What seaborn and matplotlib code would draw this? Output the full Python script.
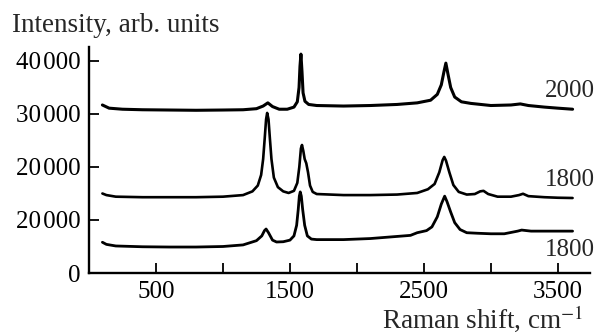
import matplotlib
matplotlib.use("Agg")
import matplotlib.pyplot as plt
import seaborn as sns
import pandas as pd

# ---- data ----
top_x = [100, 150, 250, 400, 600, 800, 1000, 1150, 1250, 1300, 1335, 1370, 1420, 1480,
         1530, 1555, 1568, 1575, 1582, 1590, 1598, 1612, 1640, 1700, 1900, 2100, 2300,
         2450, 2550, 2600, 2630, 2650, 2664, 2680, 2700, 2730, 2780, 2850, 3000, 3150,
         3220, 3280, 3400, 3500, 3610]
top_y = [31700, 31100, 30900, 30800, 30750, 30700, 30750, 30800, 31000, 31500, 32100, 31400,
         30900, 30900, 31300, 32300, 35000, 39000, 41300, 38000, 34000, 32400, 31800, 31600,
         31500, 31600, 31800, 32100, 32600, 33700, 35500, 38000, 39600, 37500, 35000, 33200,
         32300, 32000, 31600, 31700, 31900, 31600, 31300, 31100, 30900]

mid_x = [100, 130, 200, 400, 600, 800, 1000, 1150, 1220, 1260, 1285, 1300, 1312, 1322, 1330,
         1340, 1350, 1362, 1380, 1410, 1450, 1490, 1530, 1555, 1570, 1582, 1590, 1600, 1610,
         1622, 1635, 1650, 1670, 1700, 1900, 2100, 2300, 2450, 2530, 2580, 2615, 2640, 2652,
         2665, 2690, 2720, 2760, 2820, 2880, 2920, 2945, 2980, 3050, 3150, 3210, 3240, 3280,
         3400, 3500, 3610]
mid_y = [15000, 14700, 14400, 14300, 14300, 14300, 14400, 14700, 15400, 16500, 18500, 21500,
         25500, 29000, 30200, 29000, 25500, 21500, 18000, 16200, 15400, 15100, 15500, 17000,
         20000, 23500, 24150, 23000, 21500, 20700, 19000, 16500, 15300, 14900, 14700, 14700,
         14800, 15100, 15800, 16800, 19000, 21300, 21900, 21200, 19000, 16600, 15300, 14800,
         14900, 15400, 15500, 14900, 14400, 14400, 14700, 14950, 14500, 14300, 14200, 14150]

bot_x = [100, 130, 200, 400, 600, 800, 1000, 1150, 1250, 1290, 1310, 1322, 1340, 1370, 1400,
         1450, 1500, 1530, 1550, 1562, 1570, 1577, 1585, 1595, 1610, 1630, 1660, 1700, 1900,
         2100, 2300, 2400, 2450, 2520, 2560, 2600, 2630, 2655, 2672, 2700, 2730, 2770, 2820,
         2900, 3000, 3100, 3200, 3230, 3300, 3450, 3610]
bot_y = [5800, 5400, 5100, 4950, 4900, 4900, 5000, 5300, 6100, 7000, 8000, 8300, 7600, 6200,
         5850, 5900, 6200, 7000, 9000, 12000, 14500, 15300, 14500, 12000, 9000, 7000, 6400,
         6300, 6300, 6500, 6900, 7100, 7600, 8000, 8700, 10600, 13000, 14500, 13500, 11500,
         9500, 8200, 7600, 7500, 7400, 7400, 7900, 8100, 7900, 7900, 7900]

curve_labels = ["2000", "1800", "1800"]
label_y = [34430, 17550, 4340]

y_ticks = [0, 10000, 20000, 30000, 40000]
y_tick_labels = ["0", "20\u200a000", "20\u200a000", "30\u200a000", "40\u200a000"]
x_ticks = [500, 1000, 1500, 2000, 2500, 3000, 3500]
x_tick_labels = ["500", "", "1500", "", "2500", "", "3500"]

# ---- plotting ----
sns.set_theme(style="ticks")
plt.rcParams["font.family"] = ["Liberation Serif", "DejaVu Serif"]
plt.rcParams["mathtext.fontset"] = "stix"

fig = plt.figure(figsize=(6.01, 3.33), dpi=100)
ax = fig.add_axes([89 / 601, 1 - 273 / 333, (590 - 89) / 601, (273 - 47) / 333])

frames = []
for name, xs, ys in [("top", top_x, top_y), ("mid", mid_x, mid_y), ("bot", bot_x, bot_y)]:
    frames.append(pd.DataFrame({"x": xs, "y": ys, "curve": name}))
df = pd.concat(frames, ignore_index=True)

for name, lw in [("top", 2.2), ("mid", 1.9), ("bot", 2.0)]:
    sns.lineplot(data=df[df.curve == name], x="x", y="y", sort=False, estimator=None,
                 color="black", linewidth=lw, ax=ax)

ax.set_xlim(0, 3740)
ax.set_ylim(0, 42640)
ax.set_xticks(x_ticks)
ax.set_xticklabels(x_tick_labels)
ax.set_yticks(y_ticks)
ax.set_yticklabels(y_tick_labels)
ax.set_xlabel("")
ax.set_ylabel("")

sns.despine(ax=ax)
for s in ["left", "bottom"]:
    ax.spines[s].set_linewidth(1.7)
    ax.spines[s].set_color("black")
ax.tick_params(axis="both", direction="in", length=7, width=1.3, color="black",
               labelsize=18, labelcolor="black")
ax.tick_params(axis="x", pad=6)
ax.tick_params(axis="y", pad=6)

for lab, yy in zip(curve_labels, label_y):
    ax.text(3776, yy, lab, ha="right", va="center", fontsize=18, clip_on=False)

fig.text(12 / 601, 1 - 32 / 333, "Intensity, arb. units", ha="left", va="baseline", fontsize=19.5)
fig.text(583 / 601, 1 - 328 / 333, r"Raman shift, cm$^{-1}$", ha="right", va="baseline",
         fontsize=19.5)

fig.savefig("out.png", dpi=100)
